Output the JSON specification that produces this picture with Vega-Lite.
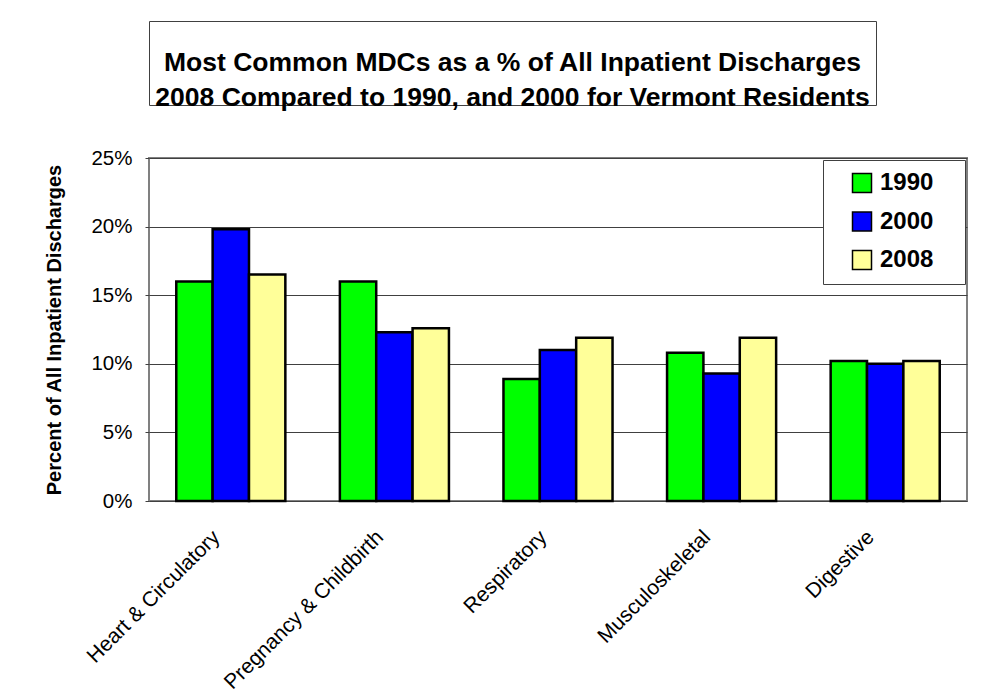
{
  "$schema": "https://vega.github.io/schema/vega-lite/v6.json",
  "padding": {"top": 20, "left": 43, "right": 10, "bottom": 4},
  "background": "white",
  "config": {
    "font": "Liberation Sans",
    "view": {"stroke": null}
  },
  "spacing": 53,
  "bounds": "flush",
  "resolve": {"scale": {"color": "independent"}, "legend": {"color": "independent"}},
  "vconcat": [
    {
      "width": 727,
      "height": 84,
      "view": {"stroke": "#404040", "strokeWidth": 1, "fill": "white"},
      "data": {"values": [{}]},
      "mark": {
        "type": "text",
        "text": ["Most Common MDCs as a % of All Inpatient Discharges", "2008 Compared to 1990, and 2000 for Vermont Residents"],
        "font": "Liberation Sans",
        "fontSize": 26.5,
        "fontWeight": "bold",
        "lineHeight": 35,
        "align": "center",
        "baseline": "middle",
        "color": "black"
      },
      "encoding": {}
    },
    {
      "width": 818,
      "height": 343,
      "view": {"stroke": "#808080", "strokeWidth": 2},
      "data": {
        "values": [
          {"category": "Heart & Circulatory", "year": "1990", "pct": 16.0},
          {"category": "Heart & Circulatory", "year": "2000", "pct": 19.8},
          {"category": "Heart & Circulatory", "year": "2008", "pct": 16.5},
          {"category": "Pregnancy & Childbirth", "year": "1990", "pct": 16.0},
          {"category": "Pregnancy & Childbirth", "year": "2000", "pct": 12.3},
          {"category": "Pregnancy & Childbirth", "year": "2008", "pct": 12.6},
          {"category": "Respiratory", "year": "1990", "pct": 8.9},
          {"category": "Respiratory", "year": "2000", "pct": 11.0},
          {"category": "Respiratory", "year": "2008", "pct": 11.9},
          {"category": "Musculoskeletal", "year": "1990", "pct": 10.8},
          {"category": "Musculoskeletal", "year": "2000", "pct": 9.3},
          {"category": "Musculoskeletal", "year": "2008", "pct": 11.9},
          {"category": "Digestive", "year": "1990", "pct": 10.2},
          {"category": "Digestive", "year": "2000", "pct": 10.0},
          {"category": "Digestive", "year": "2008", "pct": 10.2}
        ]
      },
      "mark": {"type": "bar", "stroke": "black", "strokeWidth": 2.5},
      "encoding": {
        "x": {
          "field": "category",
          "type": "nominal",
          "sort": null,
          "scale": {"paddingInner": 0.3333, "paddingOuter": 0.1667},
          "axis": {
            "title": null,
            "domain": false,
            "ticks": false,
            "labelAngle": -45,
            "labelAlign": "right",
            "labelBaseline": "alphabetic",
            "labelPadding": 37,
            "labelOffset": -10,
            "labelLimit": 0,
            "labelFontSize": 21,
            "labelColor": "black",
            "labelFont": "Liberation Sans"
          }
        },
        "xOffset": {"field": "year", "type": "nominal"},
        "y": {
          "field": "pct",
          "type": "quantitative",
          "scale": {"domain": [0, 25], "nice": false},
          "axis": {
            "title": "Percent of All Inpatient Discharges",
            "titleFontSize": 20,
            "titleFontWeight": "bold",
            "titleColor": "black",
            "titlePadding": 26,
            "titleFont": "Liberation Sans",
            "values": [0, 5, 10, 15, 20, 25],
            "labelExpr": "datum.value + '%'",
            "labelFontSize": 20.5,
            "labelColor": "black",
            "labelPadding": 13,
            "labelFont": "Liberation Sans",
            "tickSize": 4,
            "tickColor": "#404040",
            "domain": false,
            "grid": true,
            "gridColor": "#404040",
            "gridWidth": 1
          }
        },
        "color": {
          "field": "year",
          "type": "nominal",
          "scale": {"domain": ["1990", "2000", "2008"], "range": ["#00FF00", "#0000FF", "#FFFF99"]},
          "legend": {
            "title": null,
            "orient": "top-right",
            "offset": 2,
            "fillColor": "white",
            "strokeColor": "#404040",
            "padding": 11,
            "symbolType": "square",
            "symbolSize": 361,
            "symbolStrokeColor": "black",
            "symbolStrokeWidth": 1.5,
            "symbolOpacity": 1,
            "symbolOffset": 16,
            "labelExpr": "datum.label + '\u00a0\u00a0\u00a0\u200b'",
            "labelFontSize": 24,
            "labelFontWeight": "bold",
            "labelColor": "black",
            "labelFont": "Liberation Sans",
            "labelOffset": 6,
            "rowPadding": 12.5
          }
        }
      }
    }
  ]
}
